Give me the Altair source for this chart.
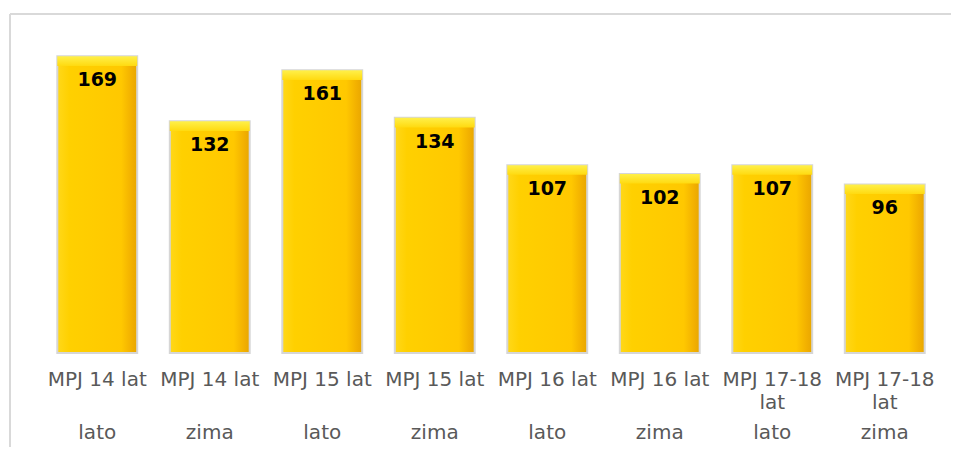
import altair as alt
import pandas as pd

names = ["MPJ 14 lat", "MPJ 14 lat", "MPJ 15 lat", "MPJ 15 lat",
         "MPJ 16 lat", "MPJ 16 lat", "MPJ 17-18 lat", "MPJ 17-18 lat"]
seasons = ["lato", "zima", "lato", "zima", "lato", "zima", "lato", "zima"]
values = [169, 132, 161, 134, 107, 102, 107, 96]

line1, line2, keys = [], [], []
for i, n in enumerate(names):
    if len(n) > 10:
        a, b = n.rsplit(" ", 1)
    else:
        a, b = n, ""
    line1.append(a)
    line2.append(b)
    keys.append(f"{i}|{a}")

df = pd.DataFrame({"key": keys, "line2": line2, "season": seasons, "value": values})

W, H = 900, 316
FONT = "DejaVu Sans"
LBL = 20

x = alt.X("key:N", sort=keys,
          scale=alt.Scale(paddingInner=0.29, paddingOuter=0.145),
          axis=alt.Axis(title=None, labelAngle=0, domain=False, ticks=False,
                        labelPadding=16, labelFont=FONT, labelFontSize=LBL,
                        labelColor="#595959",
                        labelExpr="split(datum.label, '|')[1]"))
y = alt.Y("value:Q", scale=alt.Scale(domain=[0, 180]), axis=None)

base = alt.Chart(df)

main = base.mark_bar(
    color=alt.Gradient(
        gradient="linear", x1=0, x2=1, y1=0, y2=0,
        stops=[alt.GradientStop(color="#FFD81A", offset=0),
               alt.GradientStop(color="#FFD000", offset=0.15),
               alt.GradientStop(color="#FFC800", offset=0.8),
               alt.GradientStop(color="#F2B000", offset=0.93),
               alt.GradientStop(color="#E8A600", offset=1)]),
    stroke="#D6D6D6", strokeWidth=2
).encode(x=x, y=y)

top = base.transform_calculate(lo="datum.value - 5.5").mark_bar(
    color=alt.Gradient(
        gradient="linear", x1=0, x2=0, y1=0, y2=1,
        stops=[alt.GradientStop(color="#FFF04A", offset=0),
               alt.GradientStop(color="#FFDA10", offset=1)])
).encode(x=x, y=y, y2="lo:Q")

labels = base.mark_text(font=FONT, fontSize=19, fontWeight="bold", color="#000000",
                        baseline="middle", dy=24).encode(x=x, y=y, text="value:Q")

line2_txt = base.mark_text(font=FONT, fontSize=LBL, color="#595959",
                           baseline="middle").encode(
    x=x, y=alt.value(H + 50), text="line2:N")

season_txt = base.mark_text(font=FONT, fontSize=LBL, color="#595959",
                            baseline="middle").encode(
    x=x, y=alt.value(H + 80), text="season:N")

frame_top = base.mark_rule(color="#D9D9D9", strokeWidth=2).encode(
    x=alt.value(-31), x2=alt.value(W + 40), y=alt.value(-23))
frame_left = base.mark_rule(color="#D9D9D9", strokeWidth=2).encode(
    x=alt.value(-31), y=alt.value(-23), y2=alt.value(H + 120))

chart = alt.layer(frame_top, frame_left, main, top, labels,
                  line2_txt, season_txt).properties(
    width=W, height=H,
    autosize=alt.AutoSizeParams(type="none"),
    padding={"left": 33, "top": 29, "right": 10, "bottom": 94}
).configure_view(stroke=None)

chart.save("out.html", embed_options={"renderer": "svg", "actions": False})
